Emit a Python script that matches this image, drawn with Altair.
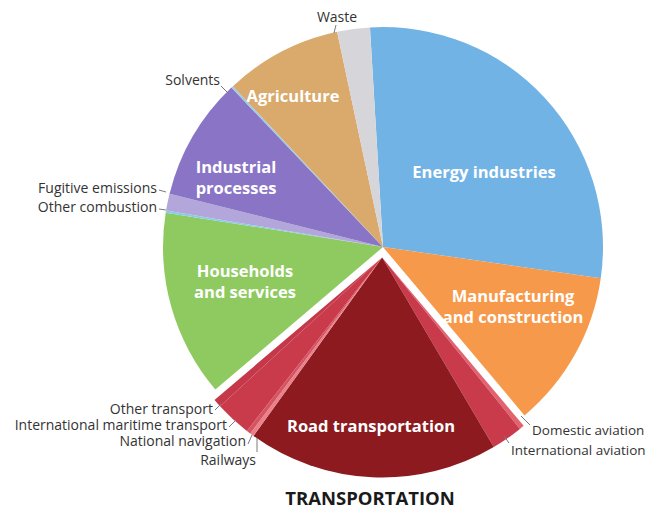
import math
import altair as alt
import pandas as pd

# ---- data (shares of total emissions, % ; clockwise from the top) ----
categories = [
    "Energy industries", "Manufacturing and construction",
    "Domestic aviation", "International aviation", "Road transportation",
    "Railways", "National navigation", "International maritime transport",
    "Other transport",
    "Households and services", "Other combustion", "Fugitive emissions",
    "Industrial processes", "Solvents", "Agriculture", "Waste",
]
shares = [28.2, 11.6, 0.35, 2.3, 18.4, 0.3, 0.3, 2.65, 0.6,
          13.7, 0.15, 1.25, 9.0, 0.15, 8.6, 2.4]
groups = ["main", "main"] + ["transport"] * 7 + ["main"] * 7
colors = ["#72b3e6", "#f7994a",
          "#e2636f", "#c93a4b", "#8c1a1f", "#e9808a", "#d65462", "#c93a4b",
          "#c53849",
          "#8fca60", "#86cde8", "#b3a6da", "#8a74c6", "#9acbe9", "#d9aa6c",
          "#d6d6da"]

df = pd.DataFrame({"category": categories, "share": shares,
                   "group": groups, "idx": list(range(len(categories)))})

W, H = 643, 502
CX, CY = 375, 239          # pie centre inside the plot area
AX, AY = 372, 239          # anchor for the annotation offsets
R = 220
START = math.radians(-3.4)
EXPLODE = 10.5
tot = sum(shares)
before = sum(shares[:2])
trans_sum = sum(s for s, g in zip(shares, groups) if g == "transport")
mid = START + 2 * math.pi * (before + trans_sum / 2) / tot
OX = EXPLODE * math.sin(mid)
OY = -EXPLODE * math.cos(mid)

theta = alt.Theta("share:Q", stack=True,
                  scale=alt.Scale(range=[START, START + 2 * math.pi]))
color = alt.Color("category:N", scale=alt.Scale(domain=categories, range=colors),
                  legend=None)
base = alt.Chart(df).encode(theta=theta, color=color, order=alt.Order("idx:Q"))

main = base.mark_arc(outerRadius=R).encode(
    opacity=alt.condition(alt.datum.group == "main", alt.value(1), alt.value(0)),
    x=alt.value(CX), y=alt.value(CY))
trans = base.mark_arc(outerRadius=R).encode(
    opacity=alt.condition(alt.datum.group == "transport", alt.value(1), alt.value(0)),
    x=alt.value(CX + OX), y=alt.value(CY + OY))

# ---- labels: offsets from the annotation anchor ----
inner_text = ["Energy industries", "Manufacturing\nand construction",
              "Households\nand services", "Industrial\nprocesses",
              "Agriculture", "Road transportation"]
inner_dx = [104, 133, -135, -144, -87, -9]
inner_dy = [-74, 50, 25, -79, -150, 180]

right_text = ["Solvents", "Fugitive emissions", "Other combustion",
              "Other transport", "International maritime transport",
              "National navigation", "Railways"]
right_dx = [-160, -223, -223, -167, -153, -134, -124]
right_dy = [-166, -58, -39, 163, 179, 195, 214]

left_text = ["Domestic aviation", "International aviation"]
left_dx = [152, 131]
left_dy = [184, 204]

lead_x1 = [-44, -159, -221, -221, -165, -151, -132, -123, 150, 129]
lead_y1 = [-222, -161, -57, -38, 163, 180, 197, 205, 178, 196]
lead_x2 = [-46, -152, -214, -214, -159, -144, -128, -123, 141, 124]
lead_y2 = [-214, -154, -55, -37, 157, 173, 188, 191, 169, 189]

FONT = "Open Sans"


def tdf(texts, dxs, dys):
    return pd.DataFrame({"t": texts, "x": [AX + d for d in dxs],
                         "y": [AY + d for d in dys]})


px = alt.X("x:Q", scale=None)
py = alt.Y("y:Q", scale=None)

inner = alt.Chart(tdf(inner_text, inner_dx, inner_dy)).mark_text(
    font=FONT, fontSize=16.5, fontWeight="bold", color="white",
    lineBreak="\n", lineHeight=21, align="center", baseline="middle"
).encode(x=px, y=py, text="t:N")

outer_r = alt.Chart(tdf(right_text, right_dx, right_dy)).mark_text(
    font=FONT, fontSize=14, color="#333333", align="right", baseline="middle"
).encode(x=px, y=py, text="t:N")

outer_l = alt.Chart(tdf(left_text, left_dx, left_dy)).mark_text(
    font=FONT, fontSize=13.5, color="#333333", align="left", baseline="middle"
).encode(x=px, y=py, text="t:N")

waste = alt.Chart(tdf(["Waste"], [-43], [-229])).mark_text(
    font=FONT, fontSize=14, color="#333333", align="center", baseline="middle"
).encode(x=px, y=py, text="t:N")

title = alt.Chart(tdf(["TRANSPORTATION"], [-10], [252])).mark_text(
    font=FONT, fontSize=18.5, fontWeight="bold", color="#1a1a1a",
    align="center", baseline="middle"
).encode(x=px, y=py, text="t:N")

leads = pd.DataFrame({"x": [AX + v for v in lead_x1], "y": [AY + v for v in lead_y1],
                      "x2": [AX + v for v in lead_x2], "y2": [AY + v for v in lead_y2]})
leaders = alt.Chart(leads).mark_rule(color="#7a7a7a", strokeWidth=1).encode(
    x=px, y=py, x2="x2:Q", y2="y2:Q")

chart = alt.layer(main, trans, leaders, inner, outer_r, outer_l, waste, title).properties(
    width=W, height=H, padding=0, autosize="none", background="white"
).configure_view(strokeWidth=0)

chart.save("out.html", embed_options={"renderer": "svg", "actions": False})
